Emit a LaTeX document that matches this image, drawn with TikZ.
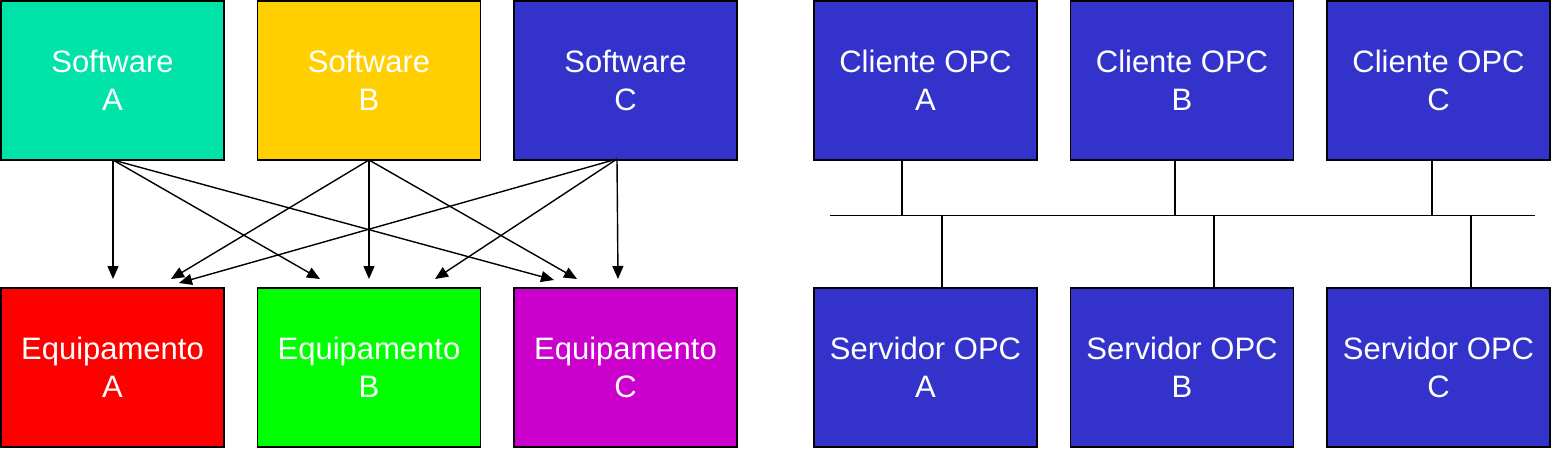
\documentclass[tikz,border=0pt]{standalone}
\usepackage{fontspec}
\setmainfont{Liberation Sans}
\usetikzlibrary{arrows.meta}
\definecolor{cteal}{HTML}{00E3A9}
\definecolor{cyellow}{HTML}{FFCF00}
\definecolor{cblue}{HTML}{3333CC}
\definecolor{cred}{HTML}{FF0000}
\definecolor{cgreen}{HTML}{00FF00}
\definecolor{cmagenta}{HTML}{CC00CC}
\tikzset{
  box/.style={draw=black, line width=1.3pt, minimum width=223pt, minimum height=159pt,
    inner sep=0pt, text=white, align=center,
    font=\fontsize{31pt}{38pt}\selectfont},
  link/.style={line width=1.4pt, -{Triangle[width=11pt,length=13pt]}},
  wire/.style={line width=1.6pt},
}
\begin{document}
\begin{tikzpicture}[x=1pt,y=-1pt]
\useasboundingbox (0,0) rectangle (1559,450);
% top row left
\node[box, fill=cteal]   (sa) at (112.5,80.5) {Software\\A};
\node[box, fill=cyellow] (sb) at (369,80.5) {Software\\B};
\node[box, fill=cblue]   (sc) at (625.5,80.5) {Software\\C};
% bottom row left
\node[box, fill=cred]     (ea) at (112.5,367.5) {Equipamento\\A};
\node[box, fill=cgreen]   (eb) at (369,367.5) {Equipamento\\B};
\node[box, fill=cmagenta] (ec) at (625.5,367.5) {Equipamento\\C};
% right
\node[box, fill=cblue] (ca) at (925.5,80.5) {Cliente OPC\\A};
\node[box, fill=cblue] (cb) at (1182,80.5) {Cliente OPC\\B};
\node[box, fill=cblue] (cc) at (1438.5,80.5) {Cliente OPC\\C};
\node[box, fill=cblue] (va) at (925.5,367.5) {Servidor OPC\\A};
\node[box, fill=cblue] (vb) at (1182,367.5) {Servidor OPC\\B};
\node[box, fill=cblue] (vc) at (1438.5,367.5) {Servidor OPC\\C};
% arrow starts
\coordinate (pa) at (113,160);
\coordinate (pb) at (369,160);
\coordinate (pc) at (617,159);
% arrow tips
\coordinate (taa) at (113,279);
\coordinate (tab) at (320,279);
\coordinate (tac) at (554,280);
\coordinate (tba) at (171,279);
\coordinate (tbb) at (369,279);
\coordinate (tbc) at (577,279);
\coordinate (tca) at (179,283);
\coordinate (tcb) at (435,279);
\coordinate (tcc) at (618,279);
\draw[link] (pa) -- (taa);
\draw[link] (pa) -- (tab);
\draw[link] (pa) -- (tac);
\draw[link] (pb) -- (tba);
\draw[link] (pb) -- (tbb);
\draw[link] (pb) -- (tbc);
\draw[link] (pc) -- (tca);
\draw[link] (pc) -- (tcb);
\draw[link] (pc) -- (tcc);
% bus
\coordinate (busl) at (830,215.5);
\coordinate (busr) at (1535,215.5);
\draw[wire] (busl) -- (busr);
\draw[wire] (ca.south -| 902,0) -- (902,215.5);
\draw[wire] (cb.south -| 1175,0) -- (1175,215.5);
\draw[wire] (cc.south -| 1432,0) -- (1432,215.5);
\draw[wire] (va.north -| 942,0) -- (942,215.5);
\draw[wire] (vb.north -| 1214,0) -- (1214,215.5);
\draw[wire] (vc.north -| 1471,0) -- (1471,215.5);
\end{tikzpicture}
\end{document}
